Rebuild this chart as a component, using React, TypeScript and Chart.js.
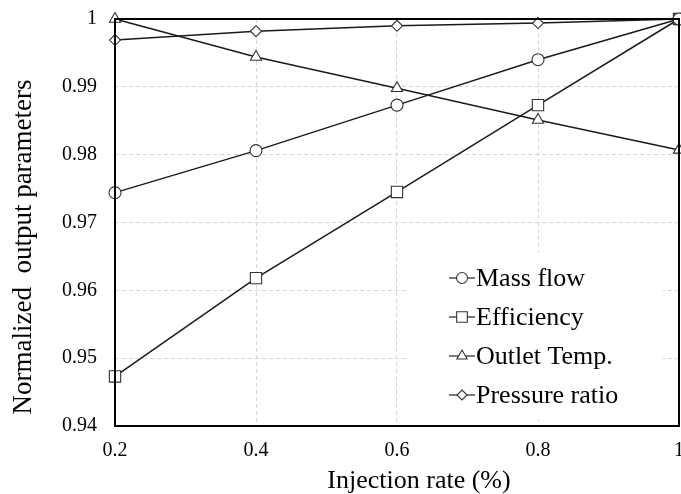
import React, { useEffect, useRef } from "react";
import { Chart, registerables } from "chart.js";

Chart.register(...registerables);

const injectionRates = [0.2, 0.4, 0.6, 0.8, 1.0];
const massFlow = [0.9744, 0.9806, 0.9873, 0.994, 1.0];
const efficiency = [0.9473, 0.9618, 0.9745, 0.9873, 1.0];
const outletTemp = [1.0, 0.9944, 0.9898, 0.9851, 0.9807];
const pressureRatio = [0.9969, 0.9982, 0.999, 0.9994, 1.0];

const xTickValues = [0.2, 0.4, 0.6, 0.8, 1.0];
const xTickLabels = ["0.2", "0.4", "0.6", "0.8", "1"];
const yTickValues = [0.94, 0.95, 0.96, 0.97, 0.98, 0.99, 1.0];
const yTickLabels = ["0.94", "0.95", "0.96", "0.97", "0.98", "0.99", "1"];

const seriesLabels = ["Mass flow", "Efficiency", "Outlet Temp.", "Pressure ratio"];
const xTitle = "Injection rate (%)";
const yTitle = "Normalized  output parameters";

const FONT = "'Liberation Serif', 'Times New Roman', serif";

function labelFor(values: number[], labels: string[], v: number) {
  for (let i = 0; i < values.length; i++) {
    if (Math.abs(values[i] - v) < 1e-6) return labels[i];
  }
  return "";
}

function drawMarker(ctx: CanvasRenderingContext2D, style: string, r: number, x: number, y: number) {
  ctx.beginPath();
  if (style === "circle") {
    ctx.arc(x, y, r, 0, Math.PI * 2);
  } else if (style === "rect") {
    const s = r * Math.SQRT1_2;
    ctx.rect(x - s, y - s, 2 * s, 2 * s);
  } else if (style === "triangle") {
    const h = r * 1.5;
    const half = (r * Math.sqrt(3)) / 2;
    ctx.moveTo(x, y - r);
    ctx.lineTo(x + half, y - r + h);
    ctx.lineTo(x - half, y - r + h);
  } else {
    ctx.moveTo(x, y - r);
    ctx.lineTo(x + r, y);
    ctx.lineTo(x, y + r);
    ctx.lineTo(x - r, y);
  }
  ctx.closePath();
  ctx.fill();
  ctx.stroke();
}

const framePlugin = {
  id: "frameAndTitles",
  afterDatasetsDraw(chart: any) {
    const { ctx, chartArea } = chart;
    ctx.save();
    ctx.strokeStyle = "#000";
    ctx.lineWidth = 2;
    ctx.strokeRect(chartArea.left, chartArea.top, chartArea.right - chartArea.left, chartArea.bottom - chartArea.top);
    ctx.restore();
  },
  afterDraw(chart: any) {
    const { ctx } = chart;
    ctx.save();
    ctx.fillStyle = "#000";
    ctx.font = `26px ${FONT}`;
    ctx.textAlign = "center";
    ctx.textBaseline = "middle";
    ctx.fillText(xTitle, 419, 481);
    ctx.translate(24, 247);
    ctx.rotate(-Math.PI / 2);
    ctx.font = `27px ${FONT}`;
    ctx.fillText(yTitle, 0, 0);
    ctx.restore();

    // legend
    ctx.save();
    ctx.fillStyle = "#fff";
    ctx.fillRect(408, 252, 255, 168);
    const rows = [278, 317, 356, 395];
    ctx.font = `26px ${FONT}`;
    ctx.textAlign = "left";
    ctx.textBaseline = "middle";
    chart.data.datasets.forEach((ds: any, i: number) => {
      const y = rows[i];
      ctx.strokeStyle = "#222";
      ctx.lineWidth = 1.2;
      ctx.beginPath();
      ctx.moveTo(449, y);
      ctx.lineTo(475, y);
      ctx.stroke();
      ctx.fillStyle = "#fff";
      ctx.strokeStyle = "#333";
      ctx.lineWidth = 1.1;
      drawMarker(ctx, ds.pointStyle, ds.pointRadius - 0.5, 462, y);
      ctx.fillStyle = "#000";
      ctx.fillText(ds.label, 476, y + 1);
    });
    ctx.restore();
  },
};

export default function App() {
  const ref = useRef<HTMLCanvasElement | null>(null);
  useEffect(() => {
    if (!ref.current) return;
    const mk = (label: string, data: number[], style: string, r: number) => ({
      label,
      data: injectionRates.map((x, i) => ({ x, y: data[i] })),
      borderColor: "#1a1a1a",
      borderWidth: 1.5,
      pointStyle: style,
      pointRadius: r,
      pointBackgroundColor: "#fff",
      pointBorderColor: "#333",
      pointBorderWidth: 1.1,
      tension: 0,
      fill: false,
      clip: false as any,
    });
    const chart = new Chart(ref.current, {
      type: "line",
      data: {
        datasets: [
          mk(seriesLabels[0], massFlow, "circle", 6),
          mk(seriesLabels[1], efficiency, "rect", 8),
          mk(seriesLabels[2], outletTemp, "triangle", 6.5),
          mk(seriesLabels[3], pressureRatio, "rectRot", 5.5),
        ],
      },
      options: {
        animation: false,
        responsive: false,
        maintainAspectRatio: false,
        layout: { autoPadding: false, padding: { top: 19, right: 2, left: 0, bottom: 0 } },
        plugins: { legend: { display: false }, tooltip: { enabled: false } },
        scales: {
          x: {
            type: "linear",
            min: 0.2,
            max: 1.0,
            afterBuildTicks: (s: any) => {
              s.ticks = xTickValues.map((v) => ({ value: v }));
            },
            afterFit: (s: any) => {
              s.height = 68;
              s.paddingLeft = 0;
              s.paddingRight = 0;
            },
            ticks: {
              font: { family: FONT, size: 20 },
              color: "#000",
              padding: 13,
              maxRotation: 0,
              callback: (v: any) => labelFor(xTickValues, xTickLabels, Number(v)),
            },
            grid: { color: "#d6d6d6", lineWidth: 1, drawTicks: false },
            border: { display: false, dash: [4, 3] },
          },
          y: {
            type: "linear",
            min: 0.94,
            max: 1.0,
            afterBuildTicks: (s: any) => {
              s.ticks = yTickValues.map((v) => ({ value: v }));
            },
            afterFit: (s: any) => {
              s.width = 115;
              s.paddingTop = 0;
              s.paddingBottom = 0;
            },
            ticks: {
              font: { family: FONT, size: 20 },
              color: "#000",
              padding: 18,
              callback: (v: any) => labelFor(yTickValues, yTickLabels, Number(v)),
            },
            grid: { color: "#d6d6d6", lineWidth: 1, drawTicks: false },
            border: { display: false, dash: [4, 3] },
          },
        },
      },
      plugins: [framePlugin],
    } as any);
    return () => chart.destroy();
  }, []);
  return (
    <div style={{ position: "fixed", left: 0, top: 0, width: 681, height: 494, background: "#fff" }}>
      <canvas ref={ref} width={681} height={494} style={{ width: 681, height: 494 }} />
    </div>
  );
}
